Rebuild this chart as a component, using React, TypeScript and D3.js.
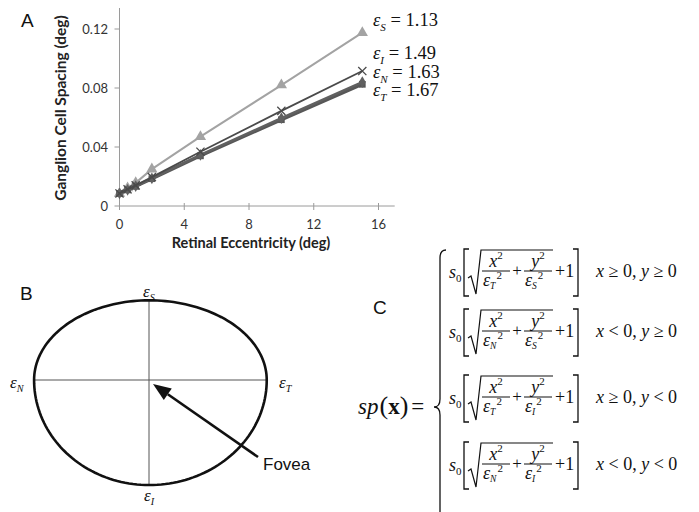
import React from "react";
import * as d3 from "d3";

// ---------- data ----------
const eccentricity = [0, 0.5, 1, 2, 5, 10, 15];
const spacingS = [0.0085, 0.0122, 0.0157, 0.025, 0.047, 0.082, 0.1175];
const spacingI = [0.0085, 0.0113, 0.014, 0.0196, 0.0368, 0.0645, 0.0915];
const spacingN = [0.0085, 0.011, 0.0135, 0.0188, 0.0347, 0.0595, 0.084];
const spacingT = [0.0085, 0.0109, 0.0133, 0.0185, 0.034, 0.0585, 0.0825];
const xTicks = [0, 4, 8, 12, 16];
const yTicks = [0, 0.04, 0.08, 0.12];
const epsNames = ["S", "I", "N", "T"];
const epsValues = [1.13, 1.49, 1.63, 1.67];
const rowH = ["T", "N", "T", "N"];
const rowV = ["S", "S", "I", "I"];
const rowCondX = ["≥", "<", "≥", "<"];
const rowCondY = ["≥", "≥", "<", "<"];

const SERIF = "'Liberation Serif', 'DejaVu Serif', serif";
const SANS = "'Liberation Sans', Arial, sans-serif";
const CAL = "Lato, 'Open Sans', sans-serif";

const eps = (n: string) => epsValues[epsNames.indexOf(n)];

function Eps({ x, y, sub, size = 17, anchor = "start", rest = "" }: any) {
  return (
    <text x={x} y={y} fontFamily={SERIF} fontSize={size} textAnchor={anchor} fill="#111">
      <tspan fontStyle="italic">ε</tspan>
      <tspan fontStyle="italic" fontSize={size * 0.6} dy={size * 0.26}>{sub}</tspan>
      {rest ? <tspan dy={-size * 0.26}>{rest}</tspan> : null}
    </text>
  );
}

function Frac({ cx, y0, num, sub }: any) {
  return (
    <g>
      <text x={cx} y={y0 - 4} fontFamily={SERIF} fontSize={18} textAnchor="middle" fill="#111">
        <tspan fontStyle="italic">{num}</tspan>
        <tspan fontSize={11} dy={-8}>2</tspan>
      </text>
      <line x1={cx - 14} x2={cx + 14} y1={y0} y2={y0} stroke="#111" strokeWidth={1} />
      <text x={cx - 13} y={y0 + 15} fontFamily={SERIF} fontSize={18} fill="#111">
        <tspan fontStyle="italic">ε</tspan>
        <tspan fontStyle="italic" fontSize={9.5} dy={3}>{sub}</tspan>
        <tspan fontSize={11} dy={-10} dx={1}>2</tspan>
      </text>
    </g>
  );
}

function Row({ y0, h, v, cx, cy }: any) {
  return (
    <g>
      <text x={449} y={y0 + 7} fontFamily={SERIF} fontSize={18} fill="#111">
        <tspan fontStyle="italic">s</tspan>
        <tspan fontSize={11} dy={4}>0</tspan>
      </text>
      <path d={`M469,${y0 - 22} H464 V${y0 + 25} H469`} fill="none" stroke="#111" strokeWidth={1.3} />
      <path
        d={`M468,${y0 + 7} L471,${y0 + 5} L476,${y0 + 23} L481,${y0 - 21} H553`}
        fill="none"
        stroke="#111"
        strokeWidth={1.2}
      />
      <Frac cx={496} y0={y0} num="x" sub={h} />
      <text x={517} y={y0 + 5} fontFamily={SERIF} fontSize={17} textAnchor="middle" fill="#111">+</text>
      <Frac cx={538} y0={y0} num="y" sub={v} />
      <text x={555} y={y0 + 6} fontFamily={SERIF} fontSize={18} fill="#111">+1</text>
      <path d={`M573,${y0 - 22} H578 V${y0 + 25} H573`} fill="none" stroke="#111" strokeWidth={1.3} />
      <text x={596} y={y0 + 6} fontFamily={SERIF} fontSize={18} fill="#111">
        <tspan fontStyle="italic">x</tspan>
        <tspan>{` ${cx} 0, `}</tspan>
        <tspan fontStyle="italic">y</tspan>
        <tspan>{` ${cy} 0`}</tspan>
      </text>
    </g>
  );
}

export default function App() {
  const x = d3.scaleLinear().domain([0, 16]).range([119.5, 378.5]);
  const y = d3.scaleLinear().domain([0, 0.12]).range([206, 29]);

  const series = [
    { vals: spacingS, color: "#a3a3a3", w: 2, sym: d3.symbolTriangle, size: 55, stroke: false },
    { vals: spacingT, color: "#575757", w: 3.2, sym: d3.symbolSquare, size: 45, stroke: false },
    { vals: spacingN, color: "#606060", w: 2.6, sym: d3.symbolDiamond, size: 40, stroke: false },
    { vals: spacingI, color: "#4a4a4a", w: 1.8, sym: d3.symbolX, size: 45, stroke: true },
  ];
  const line = d3
    .line<number>()
    .x((_, i) => x(eccentricity[i]))
    .y((d) => y(d));

  // Panel B: iso-spacing contour from the four eccentricity factors
  const cx = 149, cy = 380, k = 70.5;
  const angles = d3.range(0, 361, 2).map((a) => (a * Math.PI) / 180);
  const contour = angles.map((t) => {
    const c = Math.cos(t), s = Math.sin(t);
    const rx = (c >= 0 ? eps("T") : eps("N")) * k;
    const ry = (s >= 0 ? eps("S") : eps("I")) * k;
    return [cx + rx * c, cy - ry * s] as [number, number];
  });
  const contourPath = d3.line().curve(d3.curveLinearClosed)(contour) || "";

  // arrow
  const ax1 = 258, ay1 = 457, ax2 = 153, ay2 = 384;
  const ang = Math.atan2(ay2 - ay1, ax2 - ax1);
  const hl = 18, hw = 7;
  const bx = ax2 - hl * Math.cos(ang), by = ay2 - hl * Math.sin(ang);
  const head = `M${ax2},${ay2} L${bx + hw * Math.sin(ang)},${by - hw * Math.cos(ang)} L${bx - hw * Math.sin(ang)},${by + hw * Math.cos(ang)} Z`;

  const labelBase = [26, 59, 78, 96];
  const rowY = [271, 331, 397, 464];

  return (
    <svg width={699} height={512} style={{ position: "absolute", left: 0, top: 0, background: "#fff" }}>
      <rect width={699} height={512} fill="#fff" />
      {/* Panel A */}
      <text x={21} y={27} fontFamily={SANS} fontSize={19} fill="#111">A</text>
      <line x1={x(0)} x2={x(0)} y1={8} y2={206} stroke="#9a9a9a" strokeWidth={1} />
      <line x1={x(0)} x2={x(17)} y1={206} y2={206} stroke="#9a9a9a" strokeWidth={1} />
      {yTicks.map((t) => (
        <g key={"y" + t}>
          <line x1={x(0) - 5} x2={x(0)} y1={y(t)} y2={y(t)} stroke="#9a9a9a" />
          <text x={108} y={y(t) + 4.5} textAnchor="end" fontFamily={CAL} fontSize={13} fill="#333">
            {t === 0 ? "0" : t.toFixed(2)}
          </text>
        </g>
      ))}
      {xTicks.map((t) => (
        <g key={"x" + t}>
          <line x1={x(t)} x2={x(t)} y1={203} y2={210} stroke="#9a9a9a" />
          <text x={x(t)} y={229} textAnchor="middle" fontFamily={CAL} fontSize={13} fill="#333">{t}</text>
        </g>
      ))}
      <text x={251} y={248} textAnchor="middle" fontFamily={CAL} fontWeight="bold" fontSize={14.5} fill="#222">
        Retinal Eccentricity (deg)
      </text>
      <text
        transform={`translate(66,108) rotate(-90)`}
        textAnchor="middle"
        fontFamily={CAL}
        fontWeight="bold"
        fontSize={15.5}
        fill="#222"
      >
        Ganglion Cell Spacing (deg)
      </text>
      {series.map((s, si) => (
        <g key={"s" + si}>
          <path d={line(s.vals) || ""} fill="none" stroke={s.color} strokeWidth={s.w} />
          {s.vals.map((v, i) => (
            <path
              key={i}
              transform={`translate(${x(eccentricity[i])},${y(v)})`}
              d={d3.symbol().type(s.sym).size(s.size)() || ""}
              fill={s.stroke ? "none" : s.color}
              stroke={s.color}
              strokeWidth={s.stroke ? 1.3 : 0}
            />
          ))}
        </g>
      ))}
      {epsNames.map((n, i) => (
        <Eps key={n} x={373} y={labelBase[i]} sub={n} size={18.5} rest={` = ${epsValues[i].toFixed(2)}`} />
      ))}

      {/* Panel B */}
      <text x={20} y={300} fontFamily={SANS} fontSize={19} fill="#111">B</text>
      <line x1={cx - eps("N") * k} x2={cx + eps("T") * k} y1={cy} y2={cy} stroke="#555" strokeWidth={1} />
      <line x1={cx} x2={cx} y1={cy - eps("S") * k} y2={cy + eps("I") * k} stroke="#555" strokeWidth={1} />
      <path d={contourPath} fill="none" stroke="#111" strokeWidth={2.6} />
      <Eps x={cx} y={297} sub="S" size={17} anchor="middle" />
      <Eps x={10} y={388} sub="N" size={17} />
      <Eps x={279} y={388} sub="T" size={17} />
      <Eps x={cx} y={501} sub="I" size={17} anchor="middle" />
      <line x1={ax1} y1={ay1} x2={bx} y2={by} stroke="#111" strokeWidth={2.6} />
      <path d={head} fill="#111" />
      <text x={263} y={470} fontFamily={SANS} fontSize={17} fill="#111">Fovea</text>

      {/* Panel C */}
      <text x={373} y={314} fontFamily={SANS} fontSize={19} fill="#111">C</text>
      <text x={358} y={414} fontFamily={SERIF} fontSize={23} fill="#111">
        <tspan fontStyle="italic">sp</tspan>
        <tspan dx={1} fontSize={26}>(</tspan>
        <tspan fontWeight="bold">x</tspan>
        <tspan fontSize={26}>)</tspan>
        <tspan dx={3}>=</tspan>
      </text>
      <path
        d="M446,250 Q440,250 440,258 L440,399 Q440,407 434,407 Q440,407 440,415 L440,530"
        fill="none"
        stroke="#111"
        strokeWidth={1.3}
      />
      {rowY.map((y0, i) => (
        <Row key={i} y0={y0} h={rowH[i]} v={rowV[i]} cx={rowCondX[i]} cy={rowCondY[i]} />
      ))}
    </svg>
  );
}
